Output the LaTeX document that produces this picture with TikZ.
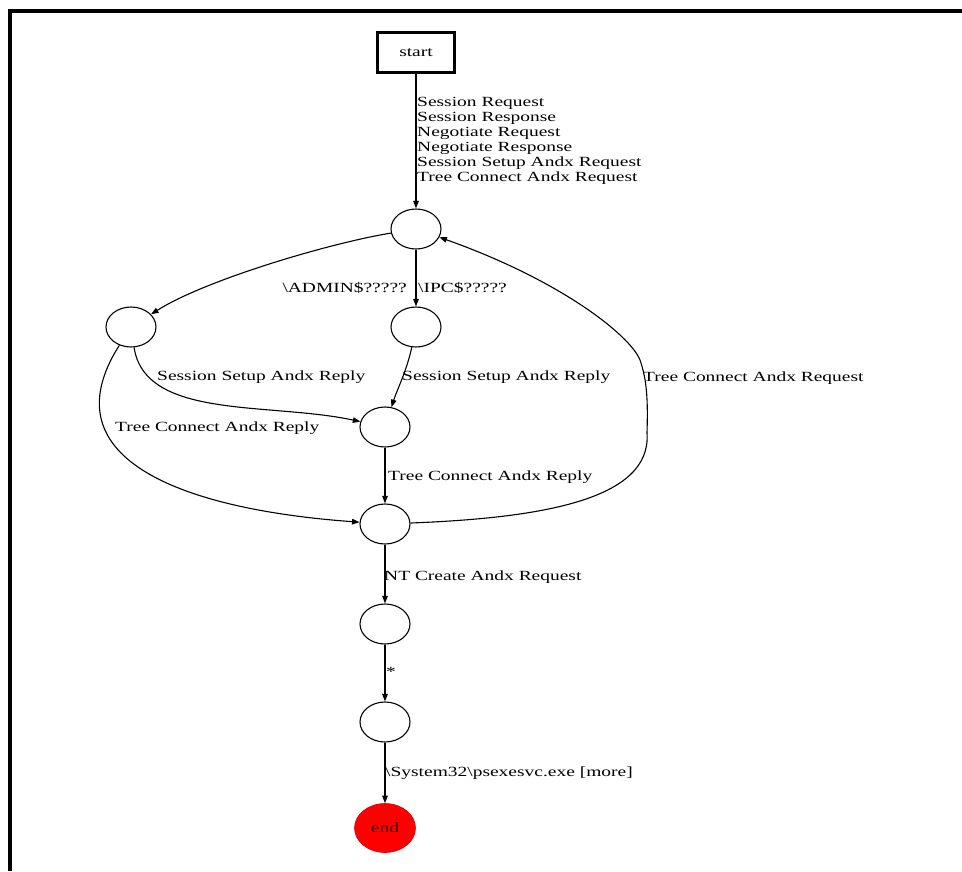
\documentclass[tikz,border=0pt]{standalone}
\usepackage{fontspec}
\setmainfont{Liberation Serif}[FakeStretch=1.39]
\usetikzlibrary{arrows.meta,shapes.geometric}
\begin{document}
\begin{tikzpicture}[x=1pt,y=-1pt,
  every node/.style={font=\fontsize{14}{15}\selectfont, inner sep=0pt},
  state/.style={draw, ellipse, line width=1.1pt, minimum width=50pt, minimum height=40pt},
  startbox/.style={draw, rectangle, line width=2.8pt, minimum width=77pt, minimum height=40pt},
  endstate/.style={ellipse, fill=red, draw=red!85!black, line width=0.6pt, minimum width=61pt, minimum height=49pt, text=black!75!red},
  lbl/.style={text=black, inner sep=0pt},
  arr/.style={line width=1.1pt, -{Triangle[length=7.5pt,width=5.5pt]}},
]
\useasboundingbox (0,0) rectangle (962,871);
\fill[white] (0,0) rectangle (962,871);
\draw[line width=4pt] (9.5,871) -- (9.5,11) -- (962,11);

% states
\node[startbox] (start) at (416,52.5) {start};
\node[state] (n1) at (416,229) {};
\node[state] (n2) at (131,327) {};
\node[state] (n3) at (416,327) {};
\node[state] (n4) at (385,427) {};
\node[state] (n5) at (385,524) {};
\node[state] (n6) at (385,624) {};
\node[state] (n7) at (385,722) {};
\node[endstate] (fin) at (385,828) {end};

% connectors
\draw[arr] (start) -- (n1);
\draw[arr] (n1) .. controls (330,243) and (205,280) .. (n2);
\draw[arr] (n1) -- (n3);
\draw[arr] (n2) .. controls (145,420) and (270,402) .. (n4);
\draw[arr] (n3) .. controls (407,370) and (397,390) .. (n4);
\draw[arr] (n2) .. controls (45,462) and (190,510) .. (n5);
\draw[arr] (n4) -- (n5);
\draw[arr] (n5) .. controls (540,518) and (652,500) .. (647,433)
  .. controls (648,400) and (647,380) .. (640,360)
  .. controls (630,335) and (560,280) .. (n1);
\draw[arr] (n5) -- (n6);
\draw[arr] (n6) -- (n7);
\draw[arr] (n7) -- (fin);

% labels
\node[lbl, anchor=north west, align=left] (l0) at (417,97)
  {Session Request\\Session Response\\Negotiate Request\\Negotiate Response\\Session Setup Andx Request\\Tree Connect Andx Request};
\node[lbl, anchor=base east] (l1) at (407,292) {\textbackslash ADMIN\$?????};
\node[lbl, anchor=base west] (l2) at (418,292) {\textbackslash IPC\$?????};
\node[lbl, anchor=base west] (l3) at (157,380) {Session Setup Andx Reply};
\node[lbl, anchor=base west] (l4) at (402,380) {Session Setup Andx Reply};
\node[lbl, anchor=base west] (l5) at (643,381) {Tree Connect Andx Request};
\node[lbl, anchor=base west] (l6) at (115,431) {Tree Connect Andx Reply};
\node[lbl, anchor=base west] (l7) at (388,480) {Tree Connect Andx Reply};
\node[lbl, anchor=base west] (l8) at (384,580) {NT Create Andx Request};
\node[lbl, anchor=base west] (l9) at (386,676) {*};
\node[lbl, anchor=base west] (l10) at (385,776) {\textbackslash System32\textbackslash psexesvc.exe [more]};
\end{tikzpicture}
\end{document}
